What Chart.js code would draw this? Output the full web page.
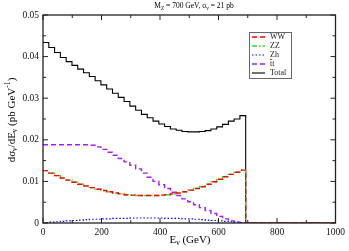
<!DOCTYPE html>
<html>
<head>
<meta charset="utf-8">
<script src="https://cdn.jsdelivr.net/npm/chart.js@4.4.1/dist/chart.umd.min.js"></script>
<style>
  html, body { margin: 0; padding: 0; background: #fff; }
  #wrap { width: 349px; height: 251px; }
</style>
</head>
<body>
<div id="wrap"><canvas id="c" width="349" height="251"></canvas></div>
<script>
// ---- Data ----
const BIN_WIDTH = 19.8;           // GeV, histogram bin width
const X_END = 1000;               // GeV, end of plotted range
const xTicks = [0, 200, 400, 600, 800, 1000];
const yTicks = [0, 0.01, 0.02, 0.03, 0.04, 0.05];

const ww = [0.0126,0.0120,0.0114,0.0108,0.0103,0.0098,0.0093,0.0089,0.0085,0.0081,
            0.0078,0.0075,0.0072,0.0070,0.0068,0.0067,0.0066,0.0066,0.0066,0.0066,
            0.0067,0.0068,0.0070,0.0072,0.0075,0.0079,0.0083,0.0087,0.0093,0.0099,
            0.0105,0.0111,0.0117,0.0122,0.0127];
const zz = [0.0126,0.0120,0.0114,0.0108,0.0103,0.0098,0.0093,0.0089,0.0085,0.0081,
            0.0078,0.0075,0.0072,0.0070,0.0068,0.0067,0.0066,0.0066,0.0066,0.0066,
            0.0067,0.0068,0.0070,0.0072,0.0075,0.0079,0.0083,0.0087,0.0093,0.0099,
            0.0105,0.0111,0.0117,0.0122,0.0127];
const zh = [0.0001,0.0002,0.0003,0.0004,0.0005,0.0006,0.0007,0.0008,0.0009,0.0009,
            0.0010,0.0010,0.0011,0.0011,0.0011,0.0012,0.0012,0.0012,0.0012,0.0012,
            0.0012,0.0011,0.0011,0.0011,0.0010,0.0010,0.0009,0.0008,0.0007,0.0006,
            0.0005,0.0004,0.0003,0.0002,0.0001];
const tt = [0.0188,0.0188,0.0188,0.0188,0.0188,0.0188,0.0188,0.0188,0.0187,0.0183,
            0.0177,0.0170,0.0163,0.0155,0.0147,0.0139,0.0130,0.0120,0.0110,0.0100,
            0.0092,0.0083,0.0074,0.0066,0.0058,0.0051,0.0044,0.0037,0.0030,0.0023,
            0.0016,0.0010,0.0005,0.0002,0.0000];
const total = [0.0434,0.0422,0.0410,0.0398,0.0388,0.0379,0.0370,0.0361,0.0352,0.0342,
               0.0332,0.0322,0.0312,0.0302,0.0292,0.0281,0.0271,0.0261,0.0253,0.0245,
               0.0238,0.0232,0.0226,0.0223,0.0220,0.0219,0.0219,0.0220,0.0222,0.0226,
               0.0231,0.0237,0.0245,0.0250,0.0258];
const legendLabels = ['WW', 'ZZ', 'Zh', 'tt', 'Total'];

// Build step-histogram points from bin values
function histPoints(vals) {
  const pts = vals.map((v, i) => ({ x: i * BIN_WIDTH, y: v }));
  pts.push({ x: vals.length * BIN_WIDTH, y: 0 });
  pts.push({ x: X_END, y: 0 });
  return pts;
}

const SERIF = '"Liberation Serif", "DejaVu Serif", serif';

function drawRich(ctx, segs, cx, cy, size, rotate) {
  ctx.save();
  ctx.translate(cx, cy);
  if (rotate) ctx.rotate(rotate);
  ctx.textBaseline = 'middle';
  ctx.textAlign = 'left';
  ctx.fillStyle = '#000';
  let w = 0;
  const meas = segs.map(s => {
    const sz = s.m === 'n' ? size : size * 0.7;
    ctx.font = sz + 'px ' + SERIF;
    const mw = ctx.measureText(s.t).width;
    w += mw;
    return { s, sz, mw };
  });
  let x = -w / 2;
  meas.forEach(({ s, sz, mw }) => {
    ctx.font = sz + 'px ' + SERIF;
    const dy = s.m === 'sub' ? size * 0.3 : (s.m === 'sup' ? -size * 0.35 : 0);
    ctx.fillText(s.t, x, dy);
    x += mw;
  });
  ctx.restore();
}

const decor = {
  id: 'decor',
  afterDraw(chart) {
    const ctx = chart.ctx;
    const a = chart.chartArea;
    const xs = chart.scales.x, ys = chart.scales.y;
    ctx.save();
    // frame
    ctx.strokeStyle = '#222';
    ctx.lineWidth = 1.3;
    ctx.strokeRect(a.left, a.top, a.right - a.left, a.bottom - a.top);
    // inward ticks
    ctx.lineWidth = 1;
    ctx.beginPath();
    for (let v = 0; v <= 1000; v += 100) {
      const px = xs.getPixelForValue(v);
      const len = (v % 200 === 0) ? 5 : 3;
      ctx.moveTo(px, a.bottom); ctx.lineTo(px, a.bottom - len);
      ctx.moveTo(px, a.top); ctx.lineTo(px, a.top + len);
    }
    for (let k = 0; k <= 10; k++) {
      const v = k * 0.005;
      const py = ys.getPixelForValue(v);
      const len = (k % 2 === 0) ? 5 : 3;
      ctx.moveTo(a.left, py); ctx.lineTo(a.left + len, py);
      ctx.moveTo(a.right, py); ctx.lineTo(a.right - len, py);
    }
    ctx.stroke();

    // legend box
    const lx = 249, ly = 32, lw = 42, lh = 46;
    ctx.fillStyle = '#fff';
    ctx.fillRect(lx, ly, lw, lh);
    ctx.strokeStyle = '#666';
    ctx.lineWidth = 1;
    ctx.strokeRect(lx + 0.5, ly + 0.5, lw, lh);
    chart.data.datasets.forEach((ds, i) => {
      const yy = ly + 5 + i * 9;
      ctx.strokeStyle = ds.borderColor;
      ctx.lineWidth = ds.borderWidth;
      ctx.setLineDash(ds.borderDash || []);
      ctx.beginPath();
      ctx.moveTo(lx + 3, yy); ctx.lineTo(lx + 16, yy);
      ctx.stroke();
      ctx.setLineDash([]);
      ctx.fillStyle = '#222';
      ctx.font = '8px ' + SERIF;
      ctx.textBaseline = 'middle';
      ctx.textAlign = 'left';
      const label = legendLabels[i];
      ctx.fillText(label, lx + 21, yy);
      if (label === 'tt') {
        // overbar on the first t
        const tw = ctx.measureText('t').width;
        ctx.strokeStyle = '#222';
        ctx.lineWidth = 0.7;
        ctx.beginPath();
        ctx.moveTo(lx + 21, yy - 4.5); ctx.lineTo(lx + 21 + tw, yy - 4.5);
        ctx.stroke();
      }
    });
    ctx.restore();

    // title
    drawRich(ctx, [{t:'M', m:'n'}, {t:'Z', m:'sub'}, {t:' = 700 GeV, \u03c3', m:'n'}, {t:'v', m:'sub'}, {t:' = 21 pb', m:'n'}],
             194, 6, 7.5, 0);
    // x title
    drawRich(ctx, [{t:'E', m:'n'}, {t:'\u03bd', m:'sub'}, {t:' (GeV)', m:'n'}], 190, 240, 11, 0);
    // y title
    drawRich(ctx, [{t:'d\u03c3', m:'n'}, {t:'\u03bd', m:'sub'}, {t:'/dE', m:'n'}, {t:'\u03bd', m:'sub'},
                   {t:' (pb GeV', m:'n'}, {t:'-1', m:'sup'}, {t:')', m:'n'}], 12, 120, 11, -Math.PI / 2);
  }
};

new Chart(document.getElementById('c'), {
  type: 'line',
  data: {
    datasets: [
      { label: 'WW', data: histPoints(ww), borderColor: '#ff0000', borderWidth: 1.4, borderDash: [5, 3] },
      { label: 'ZZ', data: histPoints(zz), borderColor: '#33dd33', borderWidth: 1.4, borderDash: [5, 2, 1.5, 2] },
      { label: 'Zh', data: histPoints(zh), borderColor: '#0000ff', borderWidth: 1.2, borderDash: [1.5, 2] },
      { label: 'tt', data: histPoints(tt), borderColor: '#a020f0', borderWidth: 1.4, borderDash: [5, 3] },
      { label: 'Total', data: histPoints(total), borderColor: '#000000', borderWidth: 1.1 }
    ].map(d => Object.assign(d, { stepped: true, pointRadius: 0, fill: false, tension: 0 }))
  },
  options: {
    responsive: false,
    animation: false,
    devicePixelRatio: 1,
    layout: { padding: { top: 15, right: 11, left: 0, bottom: 0 } },
    plugins: { legend: { display: false }, tooltip: { enabled: false }, title: { display: false } },
    scales: {
      x: {
        type: 'linear', min: 0, max: X_END,
        afterBuildTicks(s) { s.ticks = xTicks.map(v => ({ value: v })); },
        afterFit(s) { s.height = 28; },
        grid: { display: false, drawTicks: false },
        border: { display: false },
        ticks: { color: '#111', font: { family: SERIF, size: 9.5 }, padding: 4, maxRotation: 0,
                 callback: v => String(v) }
      },
      y: {
        type: 'linear', min: 0, max: 0.05,
        afterBuildTicks(s) { s.ticks = yTicks.map(v => ({ value: v })); },
        afterFit(s) { s.width = 43; },
        grid: { display: false, drawTicks: false },
        border: { display: false },
        ticks: { color: '#111', font: { family: SERIF, size: 9.5 }, padding: 4,
                 callback: v => v === 0 ? '0' : v.toFixed(2) }
      }
    }
  },
  plugins: [decor]
});
</script>
</body>
</html>
